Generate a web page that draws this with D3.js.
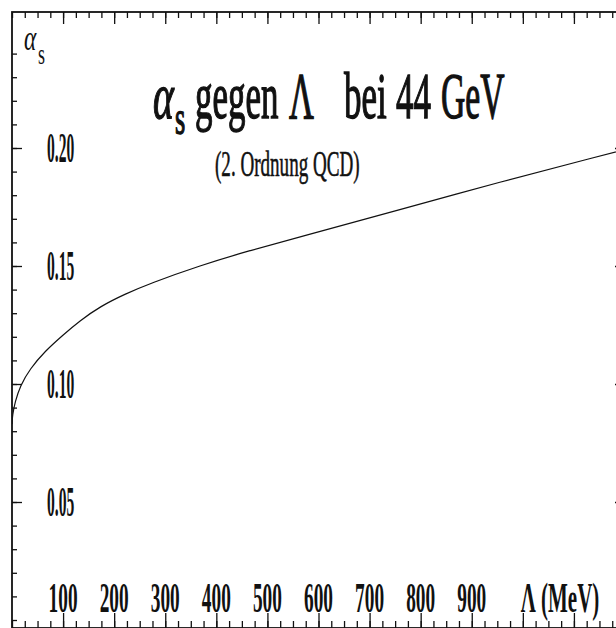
<!DOCTYPE html>
<html>
<head>
<meta charset="utf-8">
<script src="https://cdn.jsdelivr.net/npm/d3@7"></script>
<style>
  body { margin: 0; background: #fff; }
  text { font-family: "Liberation Serif", "DejaVu Serif", serif; fill: #111; }
</style>
</head>
<body>
<script>
// values (alpha_s at 44 GeV, 2nd order QCD)
let lambdaValues = [0, 1, 6, 16, 35, 65, 100, 133, 172, 221, 270, 368, 466, 564, 759, 955, 1151, 1200];
let alphaValues = [0.083, 0.0869, 0.0924, 0.0992, 0.1064, 0.1140, 0.1208, 0.1268, 0.1328, 0.1381, 0.1426, 0.1502, 0.1566, 0.1623, 0.1739, 0.1856, 0.1966, 0.1994];
let xTickValues = [100, 200, 300, 400, 500, 600, 700, 800, 900];
let xTickLabels = ["100", "200", "300", "400", "500", "600", "700", "800", "900"];
let yTickValues = [0.05, 0.10, 0.15, 0.20];
let yTickLabels = ["0.05", "0.10", "0.15", "0.20"];

let svgContainer,
    svgWidth = 616,
    svgHeight = 628,
    frame = { left: 12, top: 12, right: 625, bottom: 628 };

let xScale = d3.scaleLinear().domain([0, 1200]).range([frame.left, frame.right]);
let yScale = d3.scaleLinear().domain([0.05, 0.20]).range([502, 148]);

function init() {
    svgContainer = d3.select("body").append("svg")
        .attr("width", svgWidth)
        .attr("height", svgHeight);
    drawFrame();
    drawCurve();
    drawLabels();
}

function drawFrame() {
    svgContainer.append("rect")
        .attr("x", frame.left).attr("y", frame.top)
        .attr("width", frame.right - frame.left)
        .attr("height", frame.bottom - frame.top)
        .attr("fill", "none").attr("stroke", "#111").attr("stroke-width", 1.8);

    let xMinor = d3.range(0, 1201, 25);
    let xMajor = d3.range(100, 1101, 100);
    let yMinor = d3.range(0, 25).map(d => d / 100);

    addAxis(d3.axisBottom(xScale).tickValues(xMinor).tickSize(6), "translate(0," + frame.top + ")");
    addAxis(d3.axisBottom(xScale).tickValues(xMajor).tickSize(12), "translate(0," + frame.top + ")");
    addAxis(d3.axisTop(xScale).tickValues(xMinor).tickSize(7), "translate(0," + frame.bottom + ")");
    addAxis(d3.axisTop(xScale).tickValues(xMajor).tickSize(15), "translate(0," + frame.bottom + ")");
    addAxis(d3.axisRight(yScale).tickValues(yMinor).tickSize(5), "translate(" + frame.left + ",0)");
    addAxis(d3.axisRight(yScale).tickValues(yTickValues).tickSize(10), "translate(" + frame.left + ",0)");
    addAxis(d3.axisLeft(yScale).tickValues(yTickValues).tickSize(10), "translate(" + frame.right + ",0)");
}

function addAxis(axis, transform) {
    let g = svgContainer.append("g")
        .attr("transform", transform)
        .call(axis.tickFormat(""));
    g.select(".domain").remove();
    g.selectAll("line").attr("stroke", "#111").attr("stroke-width", 1.3);
}

function drawCurve() {
    let points = lambdaValues.map((l, i) => ({ l: l, a: alphaValues[i] }));
    svgContainer.append("clipPath").attr("id", "clip")
        .append("rect")
        .attr("x", frame.left).attr("y", frame.top)
        .attr("width", frame.right - frame.left)
        .attr("height", frame.bottom - frame.top);
    svgContainer.append("path")
        .datum(points)
        .attr("clip-path", "url(#clip)")
        .attr("fill", "none")
        .attr("stroke", "#111")
        .attr("stroke-width", 1.2)
        .attr("d", d3.line()
            .x(d => xScale(d.l))
            .y(d => yScale(d.a))
            .curve(d3.curveBasis));
}

function text(str, x, y, size, sx, anchor) {
    return svgContainer.append("text")
        .attr("transform", "translate(" + x + "," + y + ") scale(" + sx + ",1)")
        .attr("font-size", size)
        .attr("text-anchor", anchor || "start")
        .text(str);
}

function drawLabels() {
    yTickValues.forEach((v, i) => {
        text(yTickLabels[i], 47, yScale(v) + 14, 42, 0.37).attr("font-weight", "bold");
    });
    xTickValues.forEach((v, i) => {
        text(xTickLabels[i], xScale(v), 612, 42, 0.46, "middle").attr("font-weight", "bold");
    });
    text("\u039b (MeV)", 560, 612, 42, 0.5, "middle").attr("font-weight", "bold");

    // y axis name
    text("\u03b1", 24, 50, 36, 0.65).attr("font-style", "italic");
    text("s", 38, 64, 30, 0.6);

    // title
    let title = [
        text("\u03b1", 153, 118, 66, 0.6).attr("font-style", "italic"),
        text("s", 175, 134, 48, 0.55),
        text("gegen", 195, 118, 66, 0.53),
        text("\u039b", 289, 118, 66, 0.52),
        text("bei", 344, 118, 66, 0.53),
        text("44", 396, 118, 66, 0.53),
        text("GeV", 441, 118, 66, 0.51)
    ];
    title.forEach(t => t.attr("stroke", "#111").attr("stroke-width", 1.4));
    text("(2. Ordnung QCD)", 215, 176, 36, 0.53).attr("stroke", "#111").attr("stroke-width", 0.6);
}

init();
</script>
</body>
</html>
